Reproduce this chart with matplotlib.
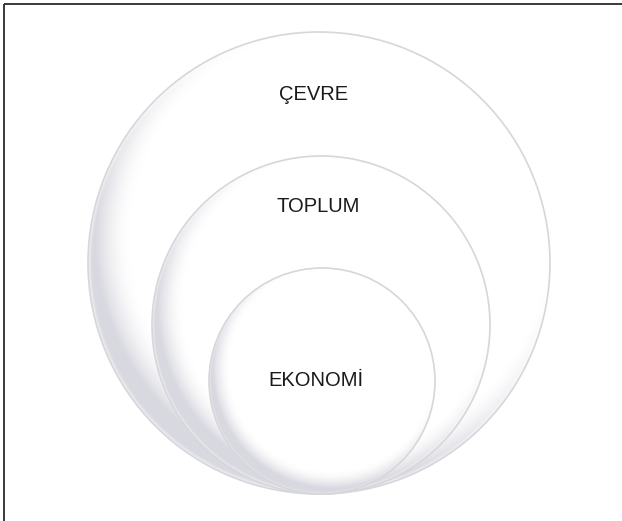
import numpy as np
import matplotlib
matplotlib.use("Agg")
import matplotlib.pyplot as plt
from matplotlib.patches import Circle

# ---- data ----
labels = ["ÇEVRE", "TOPLUM", "EKONOMİ"]
radii = [231, 169, 113]          # nested circle sizes (outer -> inner)
centers_x = [319, 321, 322]
base_y = 494                     # circles are tangent at the bottom
label_y = [95, 206, 380]
label_x = [314, 318, 316]

W, H = 622, 521
fig = plt.figure(figsize=(W / 100, H / 100), dpi=100)
ax = fig.add_axes([0, 0, 1, 1])
ax.set_xlim(0, W)
ax.set_ylim(H, 0)
ax.set_aspect("equal")
ax.axis("off")

grey = np.array([0.80, 0.80, 0.84])

for i, (r, cx) in enumerate(zip(radii, centers_x)):
    cy = base_y - r
    z = 2 + i * 3
    circ = Circle((cx, cy), r, facecolor="white", edgecolor="none", zorder=z)
    ax.add_patch(circ)
    n = 400
    xs = np.linspace(cx - r, cx + r, n)
    ys = np.linspace(cy - r, cy + r, n)
    X, Y = np.meshgrid(xs, ys)
    hx, hy, hr = cx + 0.09 * r, cy - 0.11 * r, 0.97 * r
    d = np.hypot(X - hx, Y - hy) / hr
    shade = np.clip((d - 0.93) / 0.16, 0, 1) ** 1.8
    # keep a thin light rim at the very edge
    de = np.hypot(X - cx, Y - cy) / r
    rim = np.clip((de - 0.985) / 0.015, 0, 1)
    shade = shade * (1 - 0.6 * rim)
    img = np.zeros((n, n, 4))
    img[..., :3] = grey
    img[..., 3] = shade * 0.75
    im = ax.imshow(img, extent=(cx - r, cx + r, cy + r, cy - r), origin="upper",
                   interpolation="bilinear", zorder=z + 1)
    im.set_clip_path(circ)
    outline = Circle((cx, cy), r, facecolor="none", edgecolor=(0.84, 0.84, 0.86),
                     linewidth=1.2, zorder=z + 2)
    ax.add_patch(outline)

for lab, x, y in zip(labels, label_x, label_y):
    ax.text(x, y, lab, ha="center", va="center", fontsize=14.5,
            family="Liberation Sans", color="#1a1a1a", zorder=20)

# frame lines (top and left)
ax.plot([4, W], [4, 4], color="#2a2a2a", linewidth=1.3, zorder=30, solid_capstyle="butt")
ax.plot([4, 4], [4, H], color="#2a2a2a", linewidth=1.3, zorder=30, solid_capstyle="butt")

fig.savefig("out.png", dpi=100, facecolor="white")
